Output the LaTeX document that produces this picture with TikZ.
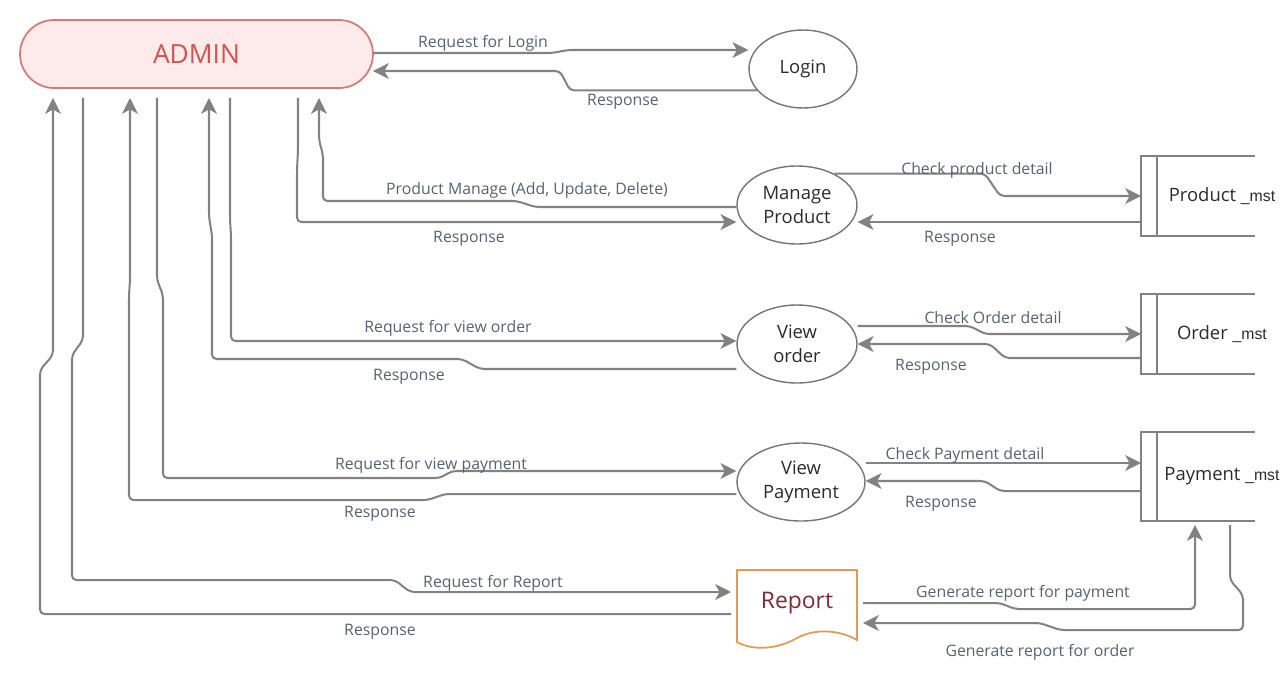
\documentclass[tikz,border=0pt]{standalone}
\usepackage{fontspec}
\setmainfont{Open Sans}
\newfontfamily\mstfont{Liberation Sans}
\usetikzlibrary{shapes.geometric}
\usetikzlibrary{arrows.meta}
\definecolor{linegray}{HTML}{828282}
\definecolor{lbltext}{HTML}{5A6070}
\definecolor{adminfill}{HTML}{FDEBEB}
\definecolor{adminline}{HTML}{D77A74}
\definecolor{admintext}{HTML}{D4524D}
\definecolor{reportline}{HTML}{E39A52}
\definecolor{reporttext}{HTML}{7E2B36}
\definecolor{nodetext}{HTML}{2B2B2B}
\tikzset{
	flow/.style={draw=linegray, line width=1.15pt, rounded corners=2.5pt, -{Stealth[length=9pt,width=9pt,inset=2.5pt]}},
	lbl/.style={text=lbltext, font=\fontsize{9}{11}\selectfont, inner sep=1pt, yshift=-0.04cm},
	process/.style={ellipse, draw=linegray!90!black, line width=0.8pt, text=nodetext, align=center, inner sep=0pt, minimum height=1.56cm, font=\fontsize{10.5}{14}\selectfont},
	admin/.style={draw=adminline, fill=adminfill, line width=1pt, rounded corners=0.68cm, minimum width=7.06cm, minimum height=1.36cm, outer xsep=0pt, outer ysep=0.2cm, text=admintext, font=\fontsize{15}{18}\selectfont},
	storeline/.style={draw=linegray, line width=1.1pt},
	storetext/.style={text=nodetext, anchor=west, minimum width=3.16cm, inner sep=0pt, outer xsep=0.04cm, outer ysep=0.08cm, font=\fontsize{10.5}{13}\selectfont}
}
\newcommand{\mst}{{\mstfont\fontsize{9}{11}\selectfont\_mst}}
\newcommand{\datastore}[5] % name, left x, top y, height, text
{
	% open box
	\draw[storeline] (#2+114,#3) -- (#2,#3) -- (#2,#3+#4) -- (#2+114,#3+#4);
	\draw[storeline, line width=1.6pt] (#2+16,#3) -- (#2+16,#3+#4);
	% name
	\node[storetext, minimum height=#4*0.02cm] (#1) at (#2,#3+#4/2) {#5};
}

\begin{document}
\begin{tikzpicture}[x=0.02cm, y=-0.02cm]
	\useasboundingbox (0,0) rectangle (1280,690);
	% entities and processes
	\node[admin] (admin) at (196.5,54) {ADMIN};
	\node[process, minimum width=2.16cm] (login) at (803,69) {Login};
	\node[process, minimum width=2.4cm] (manage) at (797,205) {Manage\\Product};
	\node[process, minimum width=2.4cm] (vorder) at (797,344) {View\\order};
	\node[process, minimum width=2.56cm] (vpay) at (801,482) {View\\Payment};
	% report document
	\draw[reportline, line width=1pt, fill=white] (737,570) -- (857,570) -- (857,640)
		.. controls (840,630) and (815,628) .. (797,638)
		.. controls (780,648) and (755,652) .. (737,642) -- cycle;
	\node[minimum width=2.4cm, minimum height=1.4cm, outer xsep=0.12cm, text=reporttext, font=\fontsize{13}{16}\selectfont] (report) at (797,603) {Report};
	% stores
	\datastore{prodmst}{1141}{156}{80}{Product \mst}
	\datastore{ordmst}{1141}{294}{80}{Order \mst}
	\datastore{paymst}{1141}{432}{89}{Payment \mst}
	
	% login
	\draw[flow] (admin.east |- 0,53) -- (552,53) -- (568,50) -- (login.west |- 0,50);
	\draw[flow] (login.205) -- (login.205 -| 570,0) -- (560,71) -- (admin.east |- 0,71);
	\node[lbl] (reqlogin) at (483,41) {Request for Login};
	\node[lbl] (reslogin) at (623,100) {Response};
	
	% manage product
	\draw[flow] (manage.west |- 0,207) -- (535,207) -- (517,201) -- (323,201) -- (323,155) -- (319,140) -- (admin.south -| 319,0);
	\draw[flow] (admin.south -| 298,0) -- (298,150) -- (297,170) -- (297,222) -- (manage.west |- 0,222);
	\draw[flow] (manage.40) -- (manage.40 -| 985,0) -- (1000,196) -- (prodmst.west |- 0,196);
	\draw[flow] (prodmst.west |- 0,222) -- (manage.east |- 0,222);
	\node[lbl] (reqmanage) at (527,188) {Product Manage (Add, Update, Delete)};
	\node[lbl] (resmanage) at (469,237) {Response};
	\node[lbl] (reqprod) at (977,168) {Check product detail};
	\node[lbl] (resprod) at (960,237) {Response};
	
	% view order
	\draw[flow] (admin.south -| 230,0) -- (230,220) -- (231,235) -- (231,341) -- (vorder.west |- 0,341);
	\draw[flow] (vorder.west |- 0,369) -- (480,369) -- (462,359) -- (212,359) -- (212,235) -- (209,217) -- (admin.south -| 209,0);
	\draw[flow] (vorder.east |- 0,326) -- (970,326) -- (985,334) -- (ordmst.west |- 0,334);
	\draw[flow] (ordmst.west |- 0,358) -- (1005,358) -- (990,344) -- (vorder.east |- 0,344);
	\node[lbl] (reqorder) at (448,326) {Request for view order};
	\node[lbl] (resorder) at (409,375) {Response};
	\node[lbl] (reqord) at (993,316) {Check Order detail};
	\node[lbl] (resord) at (931,365) {Response};
	
	% view payment
	\draw[flow] (admin.south -| 157,0) -- (157,280) -- (163,295) -- (163,478) -- (440,478) -- (452,471) -- (vpay.west |- 0,471);
	\draw[flow] (vpay.west |- 0,494) -- (445,494) -- (428,500) -- (129,500) -- (129,295) -- (130,280) -- (admin.south -| 130,0);
	\draw[flow] (vpay.east |- 0,463) -- (paymst.west |- 0,463);
	\draw[flow] (paymst.west |- 0,491) -- (1000,491) -- (985,481) -- (vpay.east |- 0,481);
	\node[lbl] (reqpayment) at (431,463) {Request for view payment};
	\node[lbl] (respayment) at (380,512) {Response};
	\node[lbl] (reqpay) at (965,453) {Check Payment detail};
	\node[lbl] (respay) at (941,502) {Response};
	
	% report
	\draw[flow] (admin.south -| 83,0) -- (83,340) -- (72,355) -- (72,580) -- (395,580) -- (410,592) -- (report.west |- 0,592);
	\draw[flow] (report.west |- 0,614) -- (40,614) -- (40,370) -- (53,355) -- (admin.south -| 53,0);
	\draw[flow] (report.east |- 0,603) -- (1000,603) -- (1015,609) -- (1195,609) -- (paymst.south -| 1195,0);
	\draw[flow] (paymst.south -| 1230,0) -- (1230,580) -- (1243,595) -- (1243,630) -- (1060,630) -- (1040,623) -- (report.east |- 0,623);
	\node[lbl] (reqreport) at (493,581) {Request for Report};
	\node[lbl] (resreport) at (380,630) {Response};
	\node[lbl] (genpay) at (1023,591) {Generate report for payment};
	\node[lbl] (genord) at (1040,650) {Generate report for order};
\end{tikzpicture}
\end{document}
